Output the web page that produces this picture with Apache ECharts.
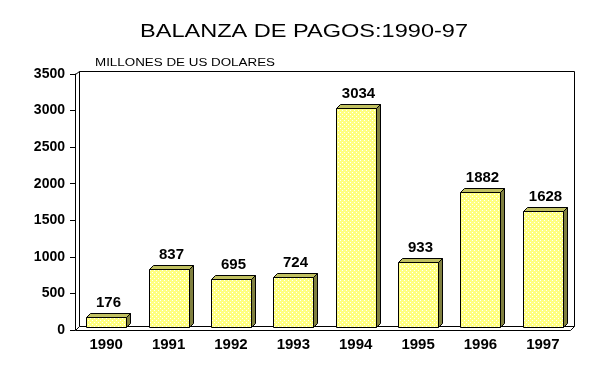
<!DOCTYPE html>
<html>
<head>
<meta charset="utf-8">
<script src="https://cdn.jsdelivr.net/npm/echarts@6/dist/echarts.min.js"></script>
<style>html,body{margin:0;padding:0;background:#fff;}#c{width:608px;height:377px;}</style>
</head>
<body>
<div id="c"></div>
<script>
const categories = ['1990','1991','1992','1993','1994','1995','1996','1997'];
const values = [176, 837, 695, 724, 3034, 933, 1882, 1628];
const yTicks = [0, 500, 1000, 1500, 2000, 2500, 3000, 3500];
const titleText = 'BALANZA DE PAGOS:1990-97';
const unitText = 'MILLONES DE US DOLARES';

// dotted yellow pattern
const pc = document.createElement('canvas');
pc.width = 4; pc.height = 4;
const px = pc.getContext('2d');
px.fillStyle = '#ffff80'; px.fillRect(0,0,4,4);
px.fillStyle = '#ffffff';
px.fillRect(0,0,1,1); px.fillRect(2,2,1,1);

const chart = echarts.init(document.getElementById('c'), null, {renderer:'canvas'});
const D = 4;
const labelFont = 'bold 15px "Liberation Sans", Arial, sans-serif';

// measure text to stretch it to the reference's letter-spaced width
function measure(text, font) {
  const c = document.createElement('canvas').getContext('2d');
  c.font = font;
  return c.measureText(text).width;
}
const titleFont = '19px "Liberation Sans", Arial, sans-serif';
const unitFont = '10px "Liberation Sans", Arial, sans-serif';
const titleScale = 328 / measure(titleText, titleFont);
const unitScale = 180 / measure(unitText, unitFont);

chart.setOption({
  animation: false,
  backgroundColor: '#fff',
  graphic: [
    {type: 'text', x: 304, y: 32, scaleX: titleScale, silent: true,
     style: {text: titleText, font: titleFont, fill: '#000', textAlign: 'center', textVerticalAlign: 'middle'}},
    {type: 'text', x: 95, y: 63, scaleX: unitScale, silent: true,
     style: {text: unitText, font: unitFont, fill: '#000', textAlign: 'left', textVerticalAlign: 'middle'}}
  ],
  grid: {left: 75, right: 34, top: 74, bottom: 47},
  xAxis: {
    type: 'category', data: categories,
    axisLine: {show: false}, axisTick: {show: false},
    axisLabel: {color: '#000', fontFamily: '"Liberation Sans", Arial', fontWeight: 'bold', fontSize: 15, margin: 7}
  },
  yAxis: {
    type: 'value', min: 0, max: 3500, interval: 500,
    axisLine: {show: true, lineStyle: {color: '#000', width: 1}},
    axisTick: {show: true, length: 5, lineStyle: {color: '#000'}},
    splitLine: {show: false},
    axisLabel: {color: '#000', fontFamily: '"Liberation Sans", Arial', fontWeight: 'bold', fontSize: 14, margin: 10,
      formatter: v => yTicks.indexOf(v) >= 0 ? String(v) : ''}
  },
  series: [
    {
      type: 'custom',
      silent: true,
      z: 1,
      data: [0],
      renderItem: function (params, api) {
        const cs = params.coordSys;
        const L = cs.x + 0.5, T = cs.y + 0.5, R = cs.x + cs.width + 0.5, B = cs.y + cs.height + 0.5;
        const ls = {stroke: '#000', lineWidth: 1, fill: null};
        return {type: 'group', children: [
          {type: 'polygon', shape: {points: [[L+D, B-D], [R, B-D], [R-D, B], [L, B]]}, style: {fill: '#fff', stroke: '#000', lineWidth: 1}},
          {type: 'polyline', shape: {points: [[L, T], [L+D, T-D+1], [R, T-D+1], [R, B-D]]}, style: ls},
          {type: 'line', shape: {x1: L+D, y1: T-D+1, x2: L+D, y2: B-D}, style: ls}
        ]};
      }
    },
    {
      type: 'custom',
      silent: true,
      z: 2,
      data: values.map((v, i) => [i, v]),
      encode: {x: 0, y: 1},
      renderItem: function (params, api) {
        const i = api.value(0), v = api.value(1);
        const base = api.coord([i, 0]);
        const top = api.coord([i, v]);
        const bw = api.size([1, 0])[0] * 0.64;
        const x0 = Math.round(base[0] - bw / 2) + 0.5;
        const x1 = Math.round(base[0] + bw / 2) + 0.5;
        const yb = Math.round(base[1]) - 2.5;
        const yt = Math.round(top[1]) + 0.5;
        return {type: 'group', children: [
          {type: 'polygon', shape: {points: [[x1, yt], [x1+D, yt-D], [x1+D, yb-D], [x1, yb]]},
            style: {fill: '#808040', stroke: '#000', lineWidth: 1}},
          {type: 'polygon', shape: {points: [[x0, yt], [x0+D, yt-D], [x1+D, yt-D], [x1, yt]]},
            style: {fill: '#c0c060', stroke: '#000', lineWidth: 1}},
          {type: 'rect', shape: {x: x0, y: yt, width: x1 - x0, height: yb - yt},
            style: {fill: {image: pc, repeat: 'repeat'}, stroke: '#000', lineWidth: 1}},
          {type: 'text', style: {text: String(v), x: (x0 + x1) / 2 + D / 2, y: yt - D - 3,
            textAlign: 'center', textVerticalAlign: 'bottom', font: labelFont, fill: '#000'}}
        ]};
      }
    }
  ]
});
</script>
</body>
</html>
